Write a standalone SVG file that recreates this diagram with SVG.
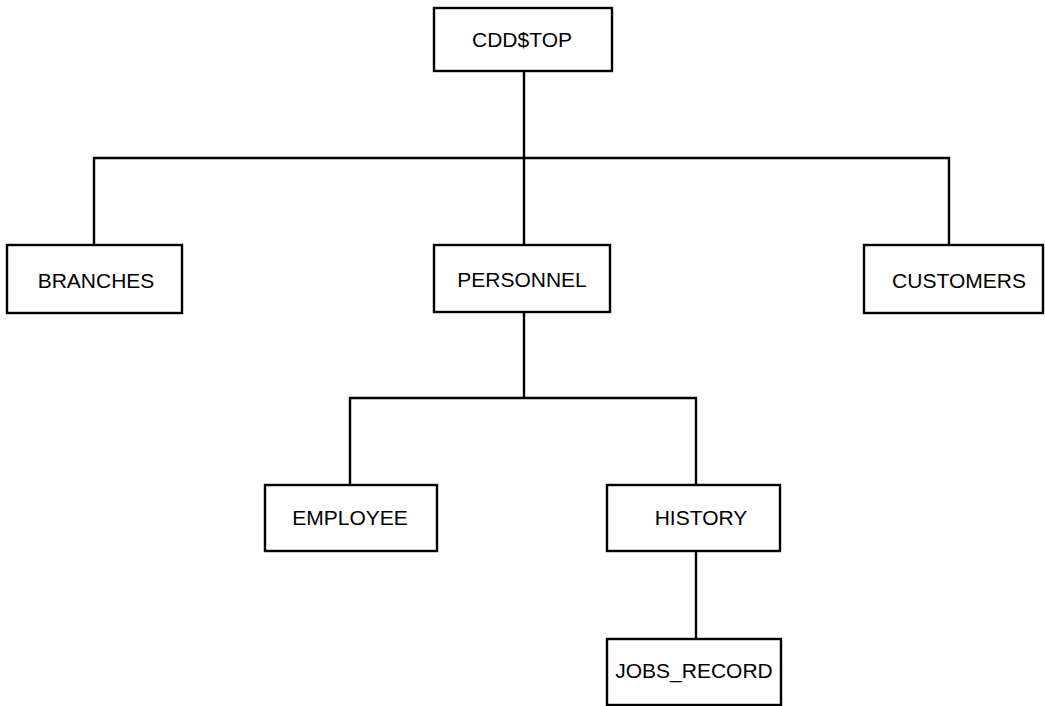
<svg xmlns="http://www.w3.org/2000/svg" width="1045" height="706" viewBox="0 0 1045 706">
  <style>
    .box { fill: #fff; stroke: #000; stroke-width: 2.4; }
    .lbl { font-family: "Liberation Sans", Arial, sans-serif; font-size: 21px; fill: #000; text-anchor: middle; }
    .wire { fill: none; stroke: #000; stroke-width: 2.4; }
  </style>
  <rect width="1045" height="706" fill="#fff"/>

  <g id="connectors">
    <path class="wire" d="M524 71 V158"/>
    <path class="wire" d="M94 245 V158 H949 V245"/>
    <path class="wire" d="M524 158 V245"/>
    <path class="wire" d="M524 312 V398"/>
    <path class="wire" d="M350 485 V398 H696 V485"/>
    <path class="wire" d="M696 551 V639"/>
  </g>

  <g id="cddtop">
    <rect class="box" x="434" y="8" width="178" height="63"/>
    <text class="lbl" x="522" y="47">CDD$TOP</text>
  </g>
  <g id="branches">
    <rect class="box" x="7" y="245" width="175" height="68"/>
    <text class="lbl" x="96" y="288">BRANCHES</text>
  </g>
  <g id="personnel">
    <rect class="box" x="434" y="245" width="176" height="67"/>
    <text class="lbl" x="522" y="287">PERSONNEL</text>
  </g>
  <g id="customers">
    <rect class="box" x="864" y="245" width="179" height="68"/>
    <text class="lbl" x="959" y="288">CUSTOMERS</text>
  </g>
  <g id="employee">
    <rect class="box" x="265" y="485" width="172" height="66"/>
    <text class="lbl" x="350" y="525">EMPLOYEE</text>
  </g>
  <g id="history">
    <rect class="box" x="607" y="485" width="173" height="66"/>
    <text class="lbl" x="701" y="525">HISTORY</text>
  </g>
  <g id="jobs_record">
    <rect class="box" x="607" y="639" width="174" height="66"/>
    <text class="lbl" x="694" y="678">JOBS_RECORD</text>
  </g>
</svg>
